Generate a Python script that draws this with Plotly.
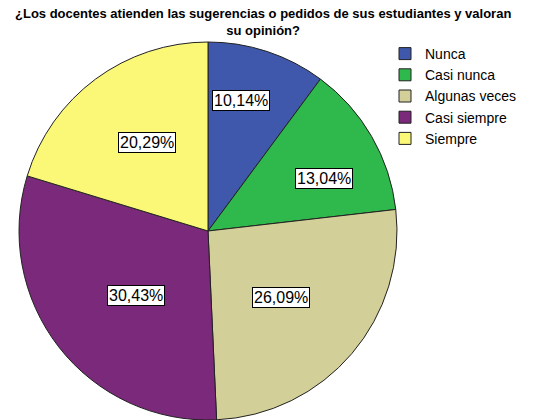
import math
import plotly.graph_objects as go

categories = ["Nunca", "Casi nunca", "Algunas veces", "Casi siempre", "Siempre"]
percentages = [10.14, 13.04, 26.09, 30.43, 20.29]
colors = ["#3f58ab", "#2fb84b", "#d3cf99", "#7b297a", "#fbf878"]
title_line1 = "¿Los docentes atienden las sugerencias o pedidos de sus estudiantes y valoran"
title_line2 = "su opinión?"

# layout parameters (style, not data)
W, H = 533, 420
pie_left, pie_right, pie_top, pie_bottom = 18, 398, 42, 420
label_radius = [0.712, 0.672, 0.522, 0.513, 0.571]
label_nudge = [(-9, -3), (6, 11), (-2, 2.5), (4.5, 5.5), (3, -2)]
FONT = "Liberation Sans, Arial, sans-serif"

fig = go.Figure()
fig.add_trace(go.Pie(
    labels=categories,
    values=percentages,
    marker=dict(colors=colors, line=dict(color="#222222", width=1)),
    sort=False,
    direction="clockwise",
    rotation=0,
    textinfo="none",
    hoverinfo="label+percent",
    domain=dict(x=[pie_left / W, pie_right / W], y=[1 - pie_bottom / H, 1 - pie_top / H]),
))

# boxed percentage labels placed from the data
R = min(pie_right - pie_left, pie_bottom - pie_top) / 2
cx = (pie_left + pie_right) / 2
cy = (pie_top + pie_bottom) / 2
total = sum(percentages)
cum = 0
for v, rf, (dx, dy) in zip(percentages, label_radius, label_nudge):
    mid = (cum + v / 2) / total * 2 * math.pi
    cum += v
    px = cx + rf * R * math.sin(mid) + dx
    py = cy - rf * R * math.cos(mid) + dy
    fig.add_annotation(
        x=px / W, y=1 - py / H, xref="paper", yref="paper",
        xanchor="center", yanchor="middle",
        text=f"{v:.2f}%".replace(".", ","),
        showarrow=False,
        font=dict(family=FONT, size=16, color="black"),
        bgcolor="white", bordercolor="black", borderwidth=1, borderpad=1,
    )

fig.add_annotation(
    x=263 / W, y=1 - 4 / H, xref="paper", yref="paper",
    xanchor="center", yanchor="top", showarrow=False,
    text="<b>" + title_line1 + "<br>" + title_line2 + "</b>",
    font=dict(family=FONT, size=13, color="black"),
)

fig.update_layout(
    width=W, height=H,
    margin=dict(l=0, r=0, t=0, b=0),
    paper_bgcolor="white",
    plot_bgcolor="white",
    legend=dict(
        x=385 / W, y=1 - 38 / H, xanchor="left", yanchor="top",
        font=dict(family=FONT, size=14, color="black"),
        bgcolor="rgba(0,0,0,0)",
        itemwidth=30,
        tracegroupgap=0,
    ),
)

fig.write_html("out.html", config={"displayModeBar": False},
               post_script="document.body.style.margin='0';")
